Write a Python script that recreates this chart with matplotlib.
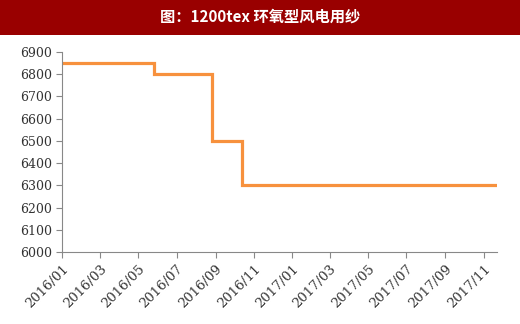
import matplotlib.pyplot as plt
import matplotlib.dates as mdates
import pandas as pd
from matplotlib.patches import Rectangle

# price change dates and the price set on each
change_dates = ['2016-01-01', '2016-05-26', '2016-08-27', '2016-10-13', '2017-11-22']
prices = [6850, 6800, 6500, 6300, 6300]
tick_months = pd.date_range('2016-01-01', '2017-11-01', freq='2MS')
title = '图：1200tex 环氧型风电用纱'

dates = pd.to_datetime(change_dates)

fig = plt.figure(figsize=(5.2, 3.24), dpi=100)
fig.patch.set_facecolor('white')

# dark red title bar
fig.patches.append(Rectangle((0, 1 - 35 / 324), 1, 35 / 324, transform=fig.transFigure,
                             facecolor='#990000', edgecolor='none', zorder=0))
fig.text(0.5, 1 - 17 / 324, title, color='white', fontsize=11, fontweight='bold',
         ha='center', va='center', family=['Noto Sans CJK SC', 'DejaVu Sans'])

ax = fig.add_axes([62 / 520, 1 - 252 / 324, (497 - 62) / 520, 200 / 324])
ax.step(dates, prices, where='post', color='#F7913D', lw=2.3, solid_joinstyle='miter')

ax.set_ylim(6000, 6900)
ax.set_yticks(range(6000, 6901, 100))
ax.set_xlim(dates[0], dates[-1])
ax.set_xticks(tick_months)
ax.xaxis.set_major_formatter(mdates.DateFormatter('%Y/%m'))

for s in ['top', 'right']:
    ax.spines[s].set_visible(False)
for s in ['left', 'bottom']:
    ax.spines[s].set_color('#888888')
    ax.spines[s].set_linewidth(0.8)

ax.tick_params(axis='both', colors='#888888', length=4, width=0.8, direction='out')
ax.tick_params(axis='y', pad=3)
ax.tick_params(axis='both', labelcolor='#333333')
for lab in ax.get_yticklabels():
    lab.set_family('DejaVu Serif')
    lab.set_fontsize(9)
for lab in ax.get_xticklabels():
    lab.set_family('DejaVu Serif')
    lab.set_fontsize(9.5)
    lab.set_rotation(45)
    lab.set_ha('right')
    lab.set_rotation_mode('anchor')

fig.savefig('out.png', dpi=100)
